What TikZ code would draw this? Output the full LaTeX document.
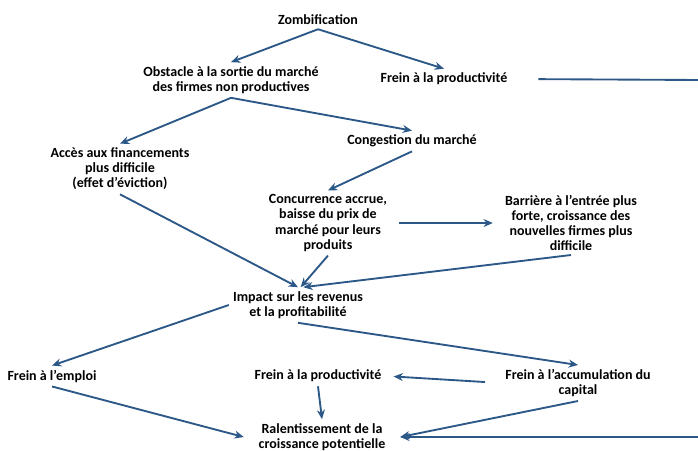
\documentclass[tikz,border=0pt]{standalone}
\usepackage{fontspec}
\setmainfont{Carlito}
\usetikzlibrary{arrows.meta}
\definecolor{flowblue}{RGB}{44,88,136}
\tikzset{
  lbl/.style={align=center,inner sep=3pt,font=\bfseries\fontsize{10.5}{11.3}\selectfont},
  arr/.style={draw=flowblue,line width=1.4pt,-{Stealth[length=7pt,width=6pt]}}
}
\begin{document}
\begin{tikzpicture}[x=0.75pt,y=-0.75pt]
\useasboundingbox (0,0) rectangle (698,450);
\node[lbl] at (318,20) (zomb) {Zombification};
\node[lbl] at (231,80) (obst) {Obstacle à la sortie du marché\\des firmes non productives};
\node[lbl] at (444,79) (prodA) {Frein à la productivité};
\node[lbl] at (120,169) (acces) {Accès aux financements\\plus difficile\\(effet d’éviction)};
\node[lbl] at (412,141) (cong) {Congestion du marché};
\node[lbl] at (328,223) (conc) {Concurrence accrue,\\baisse du prix de\\marché pour leurs\\produits};
\node[lbl] at (571,223) (barr) {Barrière à l’entrée plus\\forte, croissance des\\nouvelles firmes plus\\difficile};
\node[lbl] at (298,305) (impact) {Impact sur les revenus\\et la profitabilité};
\node[lbl] at (52,376) (emploi) {Frein à l’emploi};
\node[lbl] at (318,376) (prodB) {Frein à la productivité};
\node[lbl] at (578,383) (accum) {Frein à l’accumulation du\\capital};
\node[lbl] at (322,437) (ralent) {Ralentissement de la\\croissance potentielle};
\coordinate (hautD) at (700,80);\coordinate (basD) at (700,437);
\draw[arr] (zomb.south) -- (obst.north);
\draw[arr] (zomb.south) -- (prodA.north);
\draw[arr] (obst.south) -- (acces.north);
\draw[arr] (obst.south) -- (cong.north);
\draw[arr] (cong.south) -- (conc.north);
\draw[arr,shorten <=6pt,shorten >=6pt] (conc.east) -- (barr.west);
\draw[arr] (acces.south) -- (impact.north);
\draw[arr] (conc.south) -- ([xshift=2]impact.north);
\draw[arr] (barr.south) -- ([xshift=4]impact.north);
\draw[arr] (impact.west) -- (emploi.north);
\draw[arr] (impact.south) -- (accum.north);
\draw[arr,shorten <=12pt,shorten >=6pt] (accum.west) -- (prodB.east);
\draw[arr] (emploi.south) -- ([xshift=-8pt]ralent.west);
\draw[arr] (prodB.south) -- (ralent.north);
\draw[arr] (accum.south) -- ([xshift=8pt]ralent.east);
\draw[arr,shorten <=20pt] (prodA.east) -- (hautD) -- (basD) -- ([xshift=8pt]ralent.east);
\end{tikzpicture}
\end{document}
